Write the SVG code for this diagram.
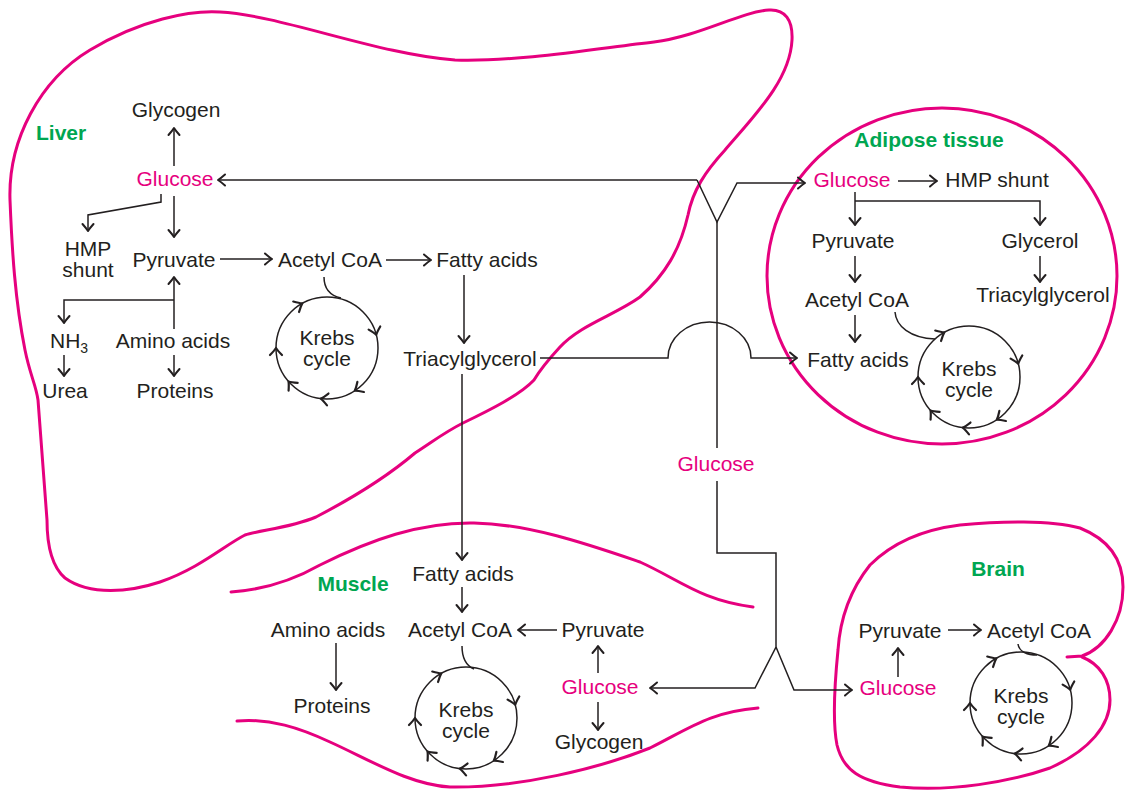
<svg xmlns="http://www.w3.org/2000/svg" xmlns:xlink="http://www.w3.org/1999/xlink" width="1125" height="791" viewBox="0 0 1125 791">
<style>
text{font-family:"Liberation Sans",Arial,Helvetica,sans-serif;font-size:21px;fill:#231f20;text-anchor:middle}
.pk{fill:#e6007e}
.lbl{fill:#00a651;font-weight:bold;font-size:21px}
.ln{fill:none;stroke:#231f20;stroke-width:1.5}
.ar{marker-end:url(#ah)}
.org{fill:none;stroke:#e6007e;stroke-width:3;stroke-linecap:round}
.chev{fill:none;stroke:#231f20;stroke-width:2.2;stroke-linecap:round;stroke-linejoin:round}
</style>
<defs>
<marker id="ah" viewBox="-10 -8 12 16" refX="0" refY="0" markerWidth="12" markerHeight="16" markerUnits="userSpaceOnUse" orient="auto">
<path d="M-7,-5.5 Q-2.5,-1.5 0,0 Q-2.5,1.5 -7,5.5" fill="none" stroke="#231f20" stroke-width="2" stroke-linecap="round" stroke-linejoin="round"/>
</marker>
<g id="krebs">
<circle cx="0" cy="0" r="51" fill="none" stroke="#231f20" stroke-width="1.5"/>
<path class="chev" transform="rotate(180) translate(51,0) rotate(90)" d="M-7,-6 Q-2.5,-1.5 0,0 Q-2.5,1.5 -7,6"/>
<path class="chev" transform="rotate(241) translate(51,0) rotate(90)" d="M-7,-6 Q-2.5,-1.5 0,0 Q-2.5,1.5 -7,6"/>
<path class="chev" transform="rotate(345) translate(51,0) rotate(90)" d="M-7,-6 Q-2.5,-1.5 0,0 Q-2.5,1.5 -7,6"/>
<path class="chev" transform="rotate(57) translate(51,0) rotate(90)" d="M-7,-6 Q-2.5,-1.5 0,0 Q-2.5,1.5 -7,6"/>
<path class="chev" transform="rotate(97) translate(51,0) rotate(90)" d="M-7,-6 Q-2.5,-1.5 0,0 Q-2.5,1.5 -7,6"/>
<path class="chev" transform="rotate(139) translate(51,0) rotate(90)" d="M-7,-6 Q-2.5,-1.5 0,0 Q-2.5,1.5 -7,6"/>
</g>
</defs>
<rect width="1125" height="791" fill="#ffffff"/>

<g id="organs">
<path id="liver-outline" class="org" d="M10,200 C8,140 40,80 90,50 C140,20 190,10 220,12 C280,15 380,55 455,60 C520,62 600,48 654,42 C700,36 740,12 769,10 C785,9 793,20 792,40 C790,80 755,115 725,150 C705,172 693,190 688,215 C680,250 665,275 640,297 C615,315 580,325 560,347 C548,360 540,370 534,380 C520,395 490,410 463,423 C445,432 435,440 415,453 C395,470 368,490 316,517 C290,528 260,530 245,535 C225,545 200,568 160,582 C130,592 90,596 65,578 C50,565 47,540 47,520 L38,400 C36,385 30,375 25,350 C15,300 12,250 10,200 Z"/>
<path id="muscle-top" class="org" d="M231,592 C260,590 290,582 320,565 C370,540 420,522 474,523 C530,524 590,545 640,562 C680,580 700,600 753,607"/>
<path id="muscle-bottom" class="org" d="M237,721 C270,718 300,728 330,742 C370,760 410,785 450,787 C520,788 600,768 650,748 C690,728 710,712 758,708"/>
<ellipse id="adipose-outline" class="org" cx="942" cy="276" rx="175" ry="168"/>
<path id="brain-outline" class="org" d="M1067,657 L1082,656 C1105,648 1123,620 1123,587 C1123,560 1110,540 1080,528 C1050,520 1000,521 960,525 C920,530 890,545 870,565 C850,590 840,620 838,650 C835,680 832,720 837,745 C843,770 860,782 900,787 C950,792 1010,782 1050,768 C1090,750 1110,725 1110,700 C1110,680 1100,664 1082,657"/>
</g>

<g id="connectors">
<path class="ln ar" d="M174,166 V128"/>
<path class="ln ar" d="M697,180 H218"/>
<path class="ln ar" d="M174,196 V237"/>
<path class="ln ar" d="M161,194 V202 L88,215 V231"/>
<path class="ln ar" d="M220,259 H272"/>
<path class="ln ar" d="M386,260 H431"/>
<path class="ln ar" d="M464,275 V343"/>
<path class="ln ar" d="M174,329 V277"/>
<path class="ln ar" d="M174,300 H64 V323"/>
<path class="ln ar" d="M64,355 V376"/>
<path class="ln ar" d="M174,355 V376"/>
<path class="ln" d="M324,277 C324,290 332,296 341,298"/>
<path class="ln ar" d="M540,358 H668 A41.5,36 0 0 1 751,358 H797"/>
<path class="ln ar" d="M462,374 V560"/>
<path class="ln ar" d="M697,180 L717,222 L737,183 H805"/>
<path class="ln" d="M717,222 V448"/>
<path class="ln ar" d="M717,481 V553 H776 V647 L755,688 H650"/>
<path class="ln ar" d="M776,647 L794,690 H852"/>
<path class="ln ar" d="M898,181 H937"/>
<path class="ln ar" d="M855,192 V225"/>
<path class="ln ar" d="M855,201 H1040 V225"/>
<path class="ln ar" d="M855,256 V282"/>
<path class="ln ar" d="M1040,256 V282"/>
<path class="ln ar" d="M855,315 V342"/>
<path class="ln" d="M895,312 C896,326 910,338 935,339"/>
<path class="ln ar" d="M462,587 V612"/>
<path class="ln ar" d="M557,630 H518"/>
<path class="ln ar" d="M598,673 V646"/>
<path class="ln ar" d="M598,702 V730"/>
<path class="ln ar" d="M336,643 V690"/>
<path class="ln" d="M462,646 C462,660 467,666 474,669"/>
<path class="ln ar" d="M948,630 H981"/>
<path class="ln ar" d="M898,677 V648"/>
<path class="ln" d="M1018,644 C1019,652 1028,655 1037,655"/>
</g>

<g id="liver">
<text class="lbl" x="36" y="140" style="text-anchor:start">Liver</text>
<g id="liver-glycogen"><text x="176" y="117">Glycogen</text></g>
<g id="liver-glucose"><text class="pk" x="175" y="186">Glucose</text></g>
<g id="liver-hmp"><text x="88" y="256">HMP</text><text x="88" y="277">shunt</text></g>
<g id="liver-pyruvate"><text x="174" y="267">Pyruvate</text></g>
<g id="liver-acetylcoa"><text x="330" y="267">Acetyl CoA</text></g>
<g id="liver-fattyacids"><text x="487" y="267">Fatty acids</text></g>
<g id="liver-tag"><text x="470" y="366">Triacylglycerol</text></g>
<g id="liver-nh3"><text x="50" y="348" style="text-anchor:start">NH<tspan font-size="14" dy="5">3</tspan></text></g>
<g id="liver-aminoacids"><text x="173" y="348">Amino acids</text></g>
<g id="liver-urea"><text x="65" y="398">Urea</text></g>
<g id="liver-proteins"><text x="175" y="398">Proteins</text></g>
<g id="liver-krebs"><use href="#krebs" xlink:href="#krebs" x="327" y="348"/><text x="327" y="345">Krebs</text><text x="327" y="366">cycle</text></g>
</g>

<g id="blood-glucose"><text class="pk" x="716" y="471">Glucose</text></g>

<g id="adipose">
<text class="lbl" x="929" y="147">Adipose tissue</text>
<g id="adipose-glucose"><text class="pk" x="852" y="187">Glucose</text></g>
<g id="adipose-hmp"><text x="997" y="187">HMP shunt</text></g>
<g id="adipose-pyruvate"><text x="853" y="248">Pyruvate</text></g>
<g id="adipose-glycerol"><text x="1040" y="248">Glycerol</text></g>
<g id="adipose-acetylcoa"><text x="857" y="307">Acetyl CoA</text></g>
<g id="adipose-tag"><text x="1043" y="302">Triacylglycerol</text></g>
<g id="adipose-fattyacids"><text x="858" y="367">Fatty acids</text></g>
<g id="adipose-krebs"><use href="#krebs" xlink:href="#krebs" x="969" y="377"/><text x="969" y="376">Krebs</text><text x="969" y="397">cycle</text></g>
</g>

<g id="muscle">
<text class="lbl" x="353" y="591">Muscle</text>
<g id="muscle-fattyacids"><text x="463" y="581">Fatty acids</text></g>
<g id="muscle-acetylcoa"><text x="460" y="637">Acetyl CoA</text></g>
<g id="muscle-pyruvate"><text x="603" y="637">Pyruvate</text></g>
<g id="muscle-aminoacids"><text x="328" y="637">Amino acids</text></g>
<g id="muscle-proteins"><text x="332" y="713">Proteins</text></g>
<g id="muscle-glucose"><text class="pk" x="600" y="694">Glucose</text></g>
<g id="muscle-glycogen"><text x="599" y="749">Glycogen</text></g>
<g id="muscle-krebs"><use href="#krebs" xlink:href="#krebs" x="466" y="718"/><text x="466" y="717">Krebs</text><text x="466" y="738">cycle</text></g>
</g>

<g id="brain">
<text class="lbl" x="998" y="576">Brain</text>
<g id="brain-pyruvate"><text x="900" y="638">Pyruvate</text></g>
<g id="brain-acetylcoa"><text x="1039" y="638">Acetyl CoA</text></g>
<g id="brain-glucose"><text class="pk" x="898" y="695">Glucose</text></g>
<g id="brain-krebs"><use href="#krebs" xlink:href="#krebs" x="1021" y="703"/><text x="1021" y="703">Krebs</text><text x="1021" y="724">cycle</text></g>
</g>
</svg>
